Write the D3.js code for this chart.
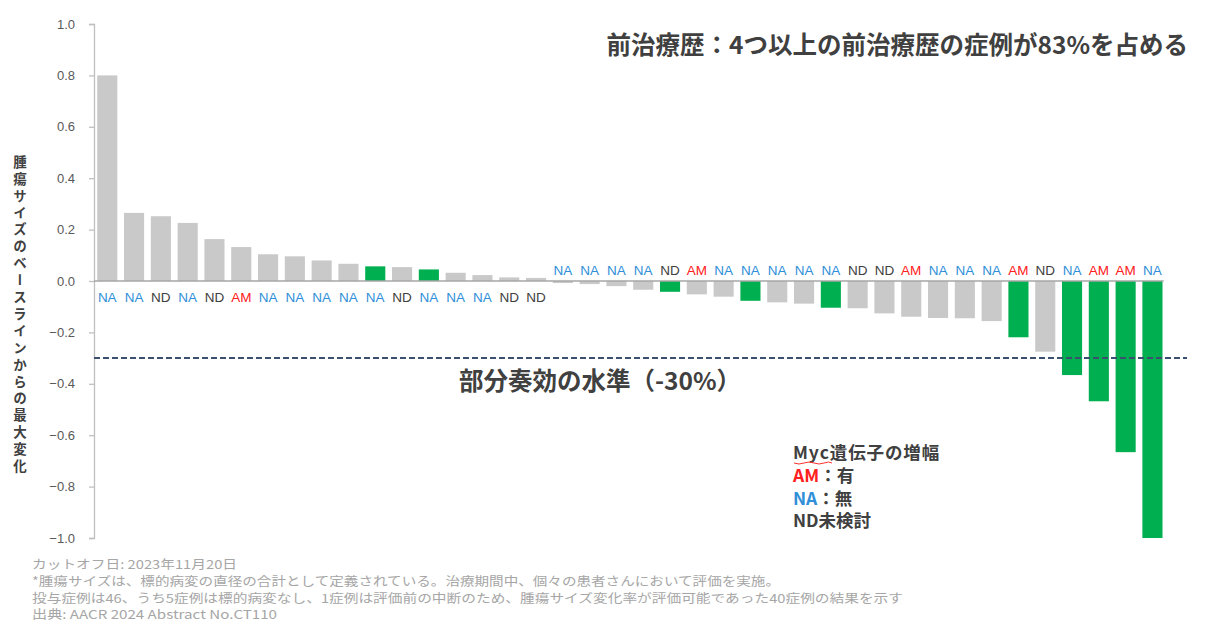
<!DOCTYPE html>
<html>
<head>
<meta charset="utf-8">
<script src="https://cdn.jsdelivr.net/npm/d3@7"></script>
<style>
  html, body { margin: 0; padding: 0; background: #fff; }
  svg { display: block; }
  text { font-family: "Liberation Sans", Arial, "Noto Sans CJK JP", sans-serif; }
  .jp { font-family: "Noto Sans CJK JP", "Liberation Sans", sans-serif; }
</style>
</head>
<body>
<svg id="chart" width="1211" height="625"></svg>
<script>
// ---------------- data ----------------
const patients = ["P01","P02","P03","P04","P05","P06","P07","P08","P09","P10",
                  "P11","P12","P13","P14","P15","P16","P17","P18","P19","P20",
                  "P21","P22","P23","P24","P25","P26","P27","P28","P29","P30",
                  "P31","P32","P33","P34","P35","P36","P37","P38","P39","P40"];
const maxChange = [0.80, 0.265, 0.252, 0.226, 0.163, 0.132, 0.104, 0.096, 0.080, 0.067,
                   0.057, 0.054, 0.045, 0.032, 0.023, 0.014, 0.012, -0.008, -0.012, -0.020,
                   -0.034, -0.042, -0.052, -0.061, -0.077, -0.083, -0.088, -0.104, -0.106, -0.126,
                   -0.139, -0.144, -0.145, -0.156, -0.219, -0.275, -0.366, -0.468, -0.666, -1.0];
const mycStatus = ["NA","NA","ND","NA","ND","AM","NA","NA","NA","NA",
                   "NA","ND","NA","NA","NA","ND","ND","NA","NA","NA",
                   "NA","ND","AM","NA","NA","NA","NA","NA","ND","ND",
                   "AM","NA","NA","NA","AM","ND","NA","AM","AM","NA"];
const highlighted = [0,0,0,0,0,0,0,0,0,0,
                     1,0,1,0,0,0,0,0,0,0,
                     0,1,0,0,1,0,0,1,0,0,
                     0,0,0,0,1,0,1,1,1,1];
const yTicks = [1.0, 0.8, 0.6, 0.4, 0.2, 0.0, -0.2, -0.4, -0.6, -0.8, -1.0];
const partialResponse = -0.30;
const titleText = "前治療歴：4つ以上の前治療歴の症例が83%を占める";
const yTitle = "腫瘍サイズのベースラインからの最大変化";
const prLabel = "部分奏効の水準（-30%）";
const legendTitle = "Myc遺伝子の増幅";
const legendCodes = ["AM", "NA", "ND"];
const legendTexts = ["：有", "：無", "未検討"];
const footnotes = [
  "カットオフ日: 2023年11月20日",
  "*腫瘍サイズは、標的病変の直径の合計として定義されている。治療期間中、個々の患者さんにおいて評価を実施。",
  "投与症例は46、うち5症例は標的病変なし、1症例は評価前の中断のため、腫瘍サイズ変化率が評価可能であった40症例の結果を示す",
  "出典: AACR 2024 Abstract No.CT110"
];

const data = patients.map((p, i) => ({id: p, v: maxChange[i], myc: mycStatus[i], hl: highlighted[i]}));

// ---------------- styles / layout ----------------
const colGray = "#c9c9c9", colGreen = "#00b050";
const labelColor = {AM: "#ff2020", NA: "#2f8fd8", ND: "#404040"};
const footWidths = [205, 748, 871, 245];

const svg = d3.select("#chart");

const x = d3.scaleBand().domain(patients).range([94, 1165.7]).paddingInner(0.25).paddingOuter(0.12);
const y = d3.scaleLinear().domain([-1, 1]).range([538, 24]);

// y axis
const yAxis = d3.axisLeft(y).tickValues(yTicks).tickFormat(d3.format(".1f")).tickSize(5).tickPadding(14);
const gy = svg.append("g").attr("transform", "translate(94,0)").call(yAxis);
gy.select(".domain").attr("stroke", "#bfbfbf").attr("stroke-width", 1.3);
gy.selectAll(".tick line").attr("stroke", "#bfbfbf").attr("stroke-width", 1.3);
gy.selectAll(".tick text").attr("fill", "#595959").attr("font-size", 13)
  .attr("font-family", "Liberation Sans, Arial, sans-serif");

// bars
svg.append("g").selectAll("rect").data(data).join("rect")
  .attr("x", d => x(d.id))
  .attr("width", x.bandwidth())
  .attr("y", d => y(Math.max(0, d.v)))
  .attr("height", d => Math.abs(y(d.v) - y(0)))
  .attr("fill", d => d.hl ? colGreen : colGray);

// zero baseline
svg.append("line")
  .attr("x1", 94).attr("x2", x.range()[1] - 2)
  .attr("y1", y(0)).attr("y2", y(0))
  .attr("stroke", "#a6a6a6").attr("stroke-width", 1.5);

// myc labels
svg.append("g").selectAll("text").data(data).join("text")
  .attr("x", d => x(d.id) + x.bandwidth() / 2)
  .attr("y", d => d.v >= 0 ? y(0) + 21 : y(0) - 6)
  .attr("text-anchor", "middle")
  .attr("font-size", 13.5)
  .attr("fill", d => labelColor[d.myc])
  .text(d => d.myc);

// partial response line
svg.append("line")
  .attr("x1", 94).attr("x2", 1187)
  .attr("y1", y(partialResponse)).attr("y2", y(partialResponse))
  .attr("stroke", "#3b4f6e").attr("stroke-width", 2).attr("stroke-dasharray", "6,3");

svg.append("text").attr("class", "jp")
  .attr("x", 600).attr("y", y(partialResponse) + 32)
  .attr("text-anchor", "middle").attr("font-size", 24.5).attr("font-weight", "bold")
  .attr("fill", "#404040").text(prLabel);

// title
svg.append("text").attr("class", "jp")
  .attr("x", 1188).attr("y", 54)
  .attr("text-anchor", "end").attr("font-size", 24.5).attr("font-weight", "bold")
  .attr("fill", "#404040").text(titleText);

// y title (vertical)
svg.append("text").attr("class", "jp")
  .attr("x", 20).attr("y", 155)
  .attr("font-size", 13.5).attr("font-weight", "bold")
  .attr("fill", "#404040")
  .style("writing-mode", "vertical-rl")
  .style("letter-spacing", "3.4px")
  .text(yTitle);

// legend
const lg = svg.append("g").attr("transform", "translate(793,459)");
lg.append("text").attr("class", "jp").attr("font-size", 17.5).attr("font-weight", "bold")
  .attr("fill", "#404040").style("letter-spacing", "0.9px").text(legendTitle);
lg.append("path").attr("d", "M1,4 Q6,6 11,4 T21,4 T31,4 T39,4").attr("fill", "none")
  .attr("stroke", "#ff3030").attr("stroke-width", 1);
legendCodes.forEach((code, i) => {
  const t = lg.append("text").attr("class", "jp").attr("y", 22.8 * (i + 1))
    .attr("font-size", 17.5).attr("font-weight", "bold");
  t.append("tspan").attr("fill", labelColor[code]).text(code);
  t.append("tspan").attr("fill", "#404040").text(legendTexts[i]);
});

// footnotes
svg.append("g").selectAll("text").data(footnotes).join("text").attr("class", "jp")
  .attr("x", 32).attr("y", (d, i) => 569 + i * 16.8)
  .attr("font-size", 12.3).attr("fill", "#a6a6a6")
  .attr("textLength", (d, i) => footWidths[i])
  .attr("lengthAdjust", "spacingAndGlyphs")
  .text(d => d);
</script>
</body>
</html>
